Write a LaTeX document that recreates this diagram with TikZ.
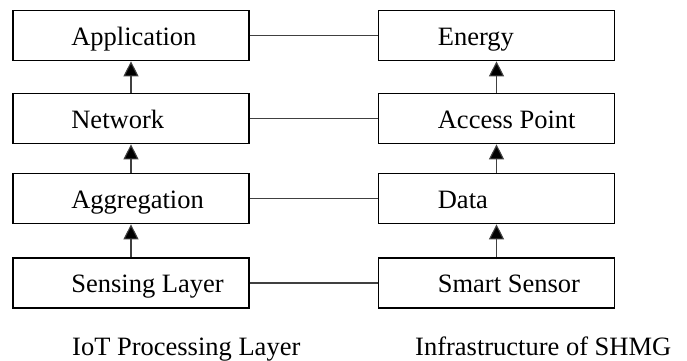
\documentclass[tikz,border=0pt]{standalone}
\usepackage{fontspec}
\setmainfont{Liberation Serif}
\usetikzlibrary{arrows.meta}
\begin{document}
\begin{tikzpicture}[x=1pt,y=1pt,
  layerbox/.style={draw=black, line width=1.7pt, minimum width=236pt, minimum height=50pt, inner sep=0pt, fill=white},
  lbl/.style={anchor=base west, inner sep=0pt, font=\fontsize{26.5}{30}\selectfont},
  link/.style={draw=black!75, line width=1.1pt},
  uparrow/.style={draw=black!75, line width=1.1pt, -{Triangle[length=15pt,width=15pt,fill=black]}}
]
\useasboundingbox (0,0) rectangle (687,360);
% left column
\node[layerbox] (app) at (131,324.5) {};
\node[layerbox] (net) at (131,241.5) {};
\node[layerbox] (agg) at (131,161.5) {};
\node[layerbox] (sen) at (131,77) {};
% right column
\node[layerbox] (ene) at (496.5,324.5) {};
\node[layerbox] (acc) at (496.5,241.5) {};
\node[layerbox] (dat) at (496.5,161.5) {};
\node[layerbox] (sma) at (496.5,77) {};
% texts
\node[lbl] (tapp) at ([xshift=59pt,yshift=-9.5pt]app.west) {Application};
\node[lbl] (tnet) at ([xshift=59pt,yshift=-9.5pt]net.west) {Network};
\node[lbl] (tagg) at ([xshift=59pt,yshift=-9.5pt]agg.west) {Aggregation};
\node[lbl] (tsen) at ([xshift=59pt,yshift=-9.5pt]sen.west) {Sensing Layer};
\node[lbl] (tene) at ([xshift=60pt,yshift=-9.5pt]ene.west) {Energy};
\node[lbl] (tacc) at ([xshift=60pt,yshift=-9.5pt]acc.west) {Access Point};
\node[lbl] (tdat) at ([xshift=60pt,yshift=-9.5pt]dat.west) {Data};
\node[lbl] (tsma) at ([xshift=60pt,yshift=-9.5pt]sma.west) {Smart Sensor};
% horizontal links
\draw[link] (app.east) -- (ene.west);
\draw[link] (net.east) -- (acc.west);
\draw[link] (agg.east) -- (dat.west);
\draw[link] (sen.east) -- (sma.west);
% arrows
\draw[uparrow] (net.north) -- (app.south);
\draw[uparrow] (agg.north) -- (net.south);
\draw[uparrow] (sen.north) -- (agg.south);
\draw[uparrow] (acc.north) -- (ene.south);
\draw[uparrow] (dat.north) -- (acc.south);
\draw[uparrow] (sma.north) -- (dat.south);
% captions
\node[lbl] (capl) at (72,5) {IoT Processing Layer};
\node[lbl] (capr) at (415,5) {Infrastructure of SHMG};
\end{tikzpicture}
\end{document}
